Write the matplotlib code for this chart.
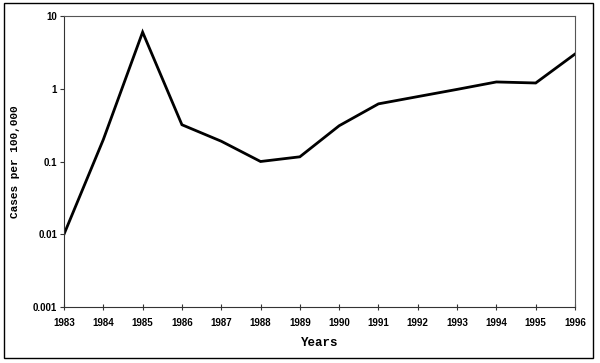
import matplotlib
matplotlib.use("Agg")
import matplotlib.pyplot as plt
from matplotlib.patches import Rectangle
from matplotlib.ticker import FixedLocator, NullLocator

years = [1983, 1984, 1985, 1986, 1987, 1988, 1989, 1990, 1991, 1992, 1993, 1994, 1995, 1996]
cases = [0.01, 0.2, 6.0, 0.32, 0.19, 0.10, 0.116, 0.31, 0.62, 0.78, 0.98, 1.24, 1.2, 3.0]
y_ticks = [0.001, 0.01, 0.1, 1, 10]
y_tick_labels = ["0.001", "0.01", "0.1", "1", "10"]

fig = plt.figure(figsize=(6.0, 3.63), dpi=100)
fig.patch.set_facecolor("white")
fig.add_artist(Rectangle((4/600, 1 - 358/363), 589/600, 355/363, transform=fig.transFigure,
                         fill=False, edgecolor="black", linewidth=1.0))

ax = fig.add_axes([64/600, 1 - 307/363, 511/600, 291/363])
ax.plot(years, cases, color="black", linewidth=2.0, solid_joinstyle="miter")
ax.set_yscale("log")
ax.set_ylim(0.001, 10)
ax.set_xlim(years[0], years[-1])
ax.yaxis.set_major_locator(FixedLocator(y_ticks))
ax.yaxis.set_minor_locator(NullLocator())
ax.set_yticklabels(y_tick_labels)
ax.set_xticks(years)
ax.set_xticklabels([str(y) for y in years])

for s in ax.spines.values():
    s.set_color("#555555")
    s.set_linewidth(0.8)
ax.spines["left"].set_color("#333333")
ax.spines["bottom"].set_color("#333333")

for lbl in ax.get_xticklabels() + ax.get_yticklabels():
    lbl.set_fontfamily("Liberation Sans")
    lbl.set_fontweight("bold")
    lbl.set_fontsize(7)
ax.tick_params(axis="y", direction="out", length=3, width=0.8, pad=2, color="#333333")
ax.tick_params(axis="x", direction="inout", length=4, width=0.8, pad=6, color="#333333")

ax.set_ylabel("Cases per 100,000", family="Liberation Mono", weight="bold", fontsize=8)
ax.yaxis.set_label_coords(-44/511, 0.5)
ax.set_xlabel("Years", family="Liberation Mono", weight="bold", fontsize=9)
ax.xaxis.set_label_coords(0.5, -30/291)

fig.savefig("out.png", dpi=100, facecolor="white")
